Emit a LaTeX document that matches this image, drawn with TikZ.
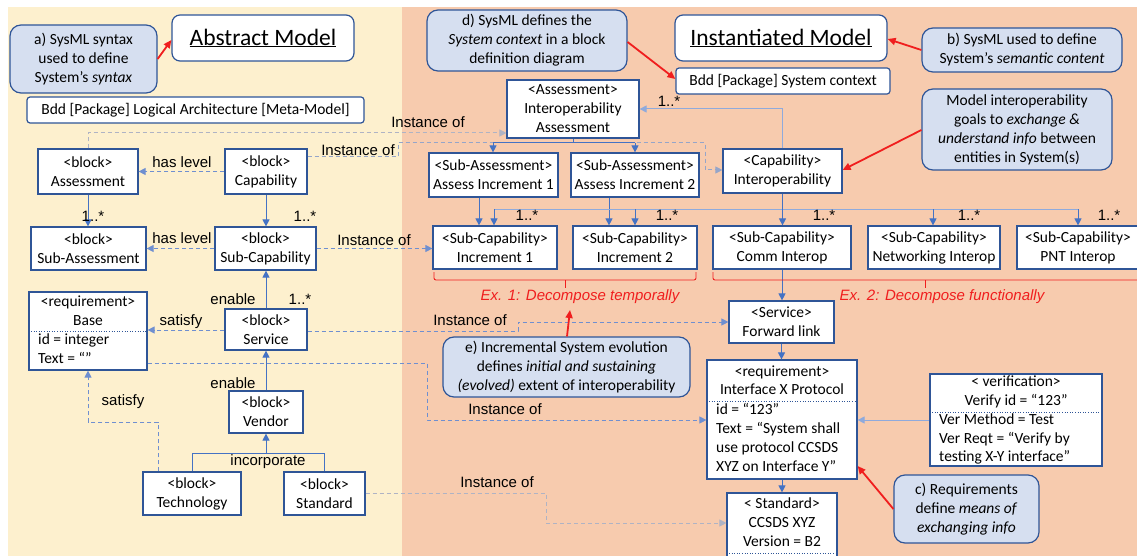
\documentclass[tikz,border=0pt]{standalone}
\usepackage{fontspec}
\newfontfamily\calfont{Carlito}
\newfontfamily\arfont{Liberation Sans}
\usetikzlibrary{arrows.meta}

\definecolor{ylw}{HTML}{FDF0CE}
\definecolor{sal}{HTML}{F7CBAE}
\definecolor{bord}{HTML}{2F5597}
\definecolor{callfill}{HTML}{D6DFF0}
\definecolor{conncol}{HTML}{4472C4}
\definecolor{lightconn}{HTML}{8FAADC}
\definecolor{dashcol}{HTML}{6F8FD0}
\definecolor{graydash}{HTML}{AFB3C4}
\definecolor{redc}{HTML}{F01E1E}

\newcommand\bfnt{\calfont\fontsize{15.5}{19}\selectfont}
\newcommand\lfnt{\arfont\fontsize{15}{18}\selectfont}
\newcommand\tfnt{\calfont\fontsize{23.5}{28}\selectfont}

% box given by its corners: [options]{name}{x1}{y1}{x2}{y2}{text}
\newcommand\bx[7][]{\node[blk,#1,minimum width={#5-#3},minimum height={#6-#4}] (#2) at ({(#3+#5)/2},{(#4+#6)/2}) {#7};}

\tikzset{
  blk/.style={draw=bord, fill=white, line width=1.2pt, inner sep=0pt, align=center, font=\bfnt},
  callout/.style={blk, fill=callfill, rounded corners=11pt},
  title/.style={blk, rounded corners=8pt, font=\tfnt},
  bdd/.style={blk, rounded corners=3pt},
  txt/.style={inner sep=0pt, font=\bfnt, text height=11pt, text depth=3.5pt},
  lbl/.style={inner sep=0pt, font=\lfnt},
  redlbl/.style={inner sep=0pt, font=\lfnt\itshape, text=redc},
  cline/.style={draw=conncol, line width=1pt},
  lline/.style={draw=lightconn, line width=1pt},
  conn/.style={cline, -{Triangle[length=7pt,width=7pt]}},
  lconn/.style={lline, -{Triangle[length=7pt,width=7pt]}},
  dconn/.style={draw=dashcol, line width=1pt, dash pattern=on 4pt off 3pt, -{Triangle[length=7pt,width=7pt]}},
  gconn/.style={dconn, draw=graydash},
  redarr/.style={draw=redc, line width=1.8pt, -{Triangle[length=8pt,width=7pt]}},
  brace/.style={draw=redc, line width=0.9pt, rounded corners=2pt},
  sep/.style={draw=bord, line width=0.6pt, dotted},
}

\begin{document}
\begin{tikzpicture}[x=1pt,y=-1pt]
\useasboundingbox (0,0) rectangle (1137,556);
\clip (0,0) rectangle (1137,556);
\fill[white] (0,0) rectangle (1137,556);
% panels
\fill[ylw] (8,7) rectangle (402,556);
\fill[sal] (402,7) rectangle (1137,556);

% ---------- abstract model ----------
\bx[callout]{callA}{10}{25}{157}{93}{a) SysML syntax\\used to define\\System’s \textit{syntax}}
\bx[title]{absModel}{172}{15}{354}{61}{\underline{Abstract Model}}
\bx[bdd]{bddL}{27}{97}{364}{123}{Bdd [Package] Logical Architecture [Meta-Model]}
\bx{assess}{38}{149}{138}{194}{<block>\\Assessment}
\bx{capab}{225}{149}{307}{194}{<block>\\Capability}
\bx{subAssess}{31}{227}{146}{270}{<block>\\Sub-Assessment}
\bx{subCap}{215}{227}{316}{270}{<block>\\Sub-Capability}
\bx{base}{29}{292}{147}{370}{}
\node[txt] (baseA) at (88,303) {<requirement>};
\node[txt] (baseB) at (88,322) {Base};
\draw[sep] (base.west |- 0,331) -- (base.east |- 0,331);
\node[txt, anchor=west] (baseC) at (38,341) {id = integer};
\node[txt, anchor=west] (baseD) at (38,360) {Text = “”};
\bx{service}{225}{309}{307}{350}{<block>\\Service}
\bx{vendor}{229}{391}{303}{433}{<block>\\Vendor}
\bx{tech}{143}{472}{241}{515}{<block>\\Technology}
\bx{stdL}{284}{472}{365}{515}{<block>\\Standard}

% ---------- instantiated model ----------
\bx[callout]{callD}{427}{10}{627}{71}{d) SysML defines the\\\textit{System context} in a block\\definition diagram}
\bx[title]{instModel}{675}{15}{887}{61}{\underline{Instantiated Model}}
\bx[callout]{callB}{922}{28}{1122}{72}{b) SysML used to define\\System’s \textit{semantic content}}
\bx[bdd]{bddR}{676}{68}{890}{94}{Bdd [Package] System context}
\bx{interAssess}{507}{80}{639}{138}{<Assessment>\\Interoperability\\Assessment}
\bx[callout]{callM}{922}{89}{1112}{170}{Model interoperability\\goals to \textit{exchange \&}\\\textit{understand info} between\\entities in System(s)}
\bx{capInter}{723}{149}{842}{193}{<Capability>\\Interoperability}
\bx{aInc1}{429}{153}{558}{197}{<Sub-Assessment>\\Assess Increment 1}
\bx{aInc2}{571}{153}{699}{197}{<Sub-Assessment>\\Assess Increment 2}
\bx{sInc1}{433}{226}{557}{269}{<Sub-Capability>\\Increment 1}
\bx{sInc2}{573}{226}{697}{269}{<Sub-Capability>\\Increment 2}
\bx{comm}{713}{226}{851}{269}{<Sub-Capability>\\Comm Interop}
\bx{netw}{868}{226}{1000}{269}{<Sub-Capability>\\Networking Interop}
\bx{pnt}{1017}{226}{1139}{269}{<Sub-Capability>\\PNT Interop}
\bx{fl}{729}{301}{834}{343}{<Service>\\Forward link}
\bx[callout]{callE}{443}{337}{690}{397}{e) Incremental System evolution\\defines \textit{initial and sustaining}\\\textit{(evolved)} extent of interoperability}
\bx{req}{707}{360}{857}{479}{}
\node[txt] (reqA) at (782,373) {<requirement>};
\node[txt] (reqB) at (782,391) {Interface X Protocol};
\draw[sep] (req.west |- 0,401) -- (req.east |- 0,401);
\node[txt, anchor=west] (reqC) at (716,411) {id = “123”};
\node[txt, anchor=west] (reqD) at (716,430) {Text = “System shall};
\node[txt, anchor=west] (reqE) at (716,449) {use protocol CCSDS};
\node[txt, anchor=west] (reqF) at (716,468) {XYZ on Interface Y”};
\bx{verif}{930}{374}{1102}{466}{}
\node[txt] (verA) at (1016,383) {< verification>};
\node[txt] (verB) at (1016,402) {Verify id = “123”};
\draw[sep] (verif.west |- 0,412) -- (verif.east |- 0,412);
\node[txt, anchor=west] (verC) at (939,421) {Ver Method = Test};
\node[txt, anchor=west] (verD) at (939,440) {Ver Reqt = “Verify by};
\node[txt, anchor=west] (verE) at (939,458) {testing X-Y interface”};
\bx[callout]{callC}{894}{475}{1039}{543}{c) Requirements\\define \textit{means of}\\\textit{exchanging info}}
\bx{stdR}{727}{493}{837}{562}{}
\node[txt] (stdA) at (782,505) {< Standard>};
\node[txt] (stdB) at (782,524) {CCSDS XYZ};
\node[txt] (stdC) at (782,543) {Version = B2};
\draw[sep] (stdR.west |- 0,553) -- (stdR.east |- 0,553);

% ---------- solid connectors, abstract side ----------
\draw[conn] (assess.south) -- (assess.south |- subAssess.north);
\node[lbl] (m1) at (93,216) {1..*};
\draw[conn] (capab.south) -- (capab.south |- subCap.north);
\node[lbl] (m2) at (305,216) {1..*};
\draw[conn] (service.north) -- (service.north |- subCap.south);
\node[lbl] (en1) at (233,299) {enable};
\node[lbl] (m3) at (300,299) {1..*};
\draw[conn] (vendor.north) -- (vendor.north |- service.south);
\node[lbl] (en2) at (233,383) {enable};
\coordinate (inc) at (266,453);
\draw[cline] (tech.north) -- (tech.north |- inc) -- (stdL.north |- inc) -- (stdL.north);
\draw[conn] (inc) -- (vendor.south);
\node[lbl] (incl) at (268,462) {incorporate};

% ---------- dashed connectors, abstract side ----------
\draw[dconn] (capab.west) -- (assess.east);
\node[lbl] (hl1) at (182,162) {has level};
\draw[dconn] (subCap.west) -- (subAssess.east);
\node[lbl] (hl2) at (182,238) {has level};
\draw[dconn] (service.west |- 0,330) -- (base.east |- 0,330);
\node[lbl] (sat1) at (181,322) {satisfy};
\draw[dconn] (tech.north -| 158,0) -- (158,422) -| (base.south);
\node[lbl] (sat2) at (123,402) {satisfy};

% ---------- instance-of links ----------
\draw[gconn] (assess.north) -- (88,133) -- (interAssess.west |- 0,133);
\node[lbl] (io1) at (428,122) {Instance of};
\draw[dconn, draw=graydash!60!dashcol] (capab.east |- 0,157) -- (398,157) -- (398,143) -- (705,143) -- (705,170) -- (capInter.west |- 0,170);
\node[lbl] (io2) at (358,150) {Instance of};
\draw[dconn] (subCap.east) -- (sInc1.west |- subCap.east);
\node[lbl] (io3) at (374,240) {Instance of};
\draw[dconn] (service.east |- 0,331) -| (518,322) -- (fl.west);
\node[lbl] (io4) at (470,320) {Instance of};
\draw[dconn] (base.east |- 0,363) -| (427,420) -- (req.west |- 0,420);
\node[lbl] (io5) at (505,409) {Instance of};
\draw[gconn] (stdL.east) -| (546,523) -- (stdR.west |- 0,523);
\node[lbl] (io6) at (497,482) {Instance of};

% ---------- solid connectors, instantiated side ----------
\coordinate (ja) at (573,143);
\coordinate (j1) at (493,143);
\coordinate (j2) at (635,143);
\draw[cline] (interAssess.south) -- (ja);
\draw[cline] (j1) -- (j2);
\draw[conn] (j1) -- (j1 |- aInc1.north);
\draw[conn] (j2) -- (j2 |- aInc2.north);
\draw[conn] (aInc1.south -| 479,0) -- (sInc1.north -| 479,0);
\draw[conn] (aInc2.south -| 609,0) -- (sInc2.north -| 609,0);
\draw[lconn] (capInter.north) |- (interAssess.east);
\node[lbl] (m4) at (669,101) {1..*};
\coordinate (bL) at (494,209);
\coordinate (bR) at (1078,209);
\draw[lline] (bL) -- (bR);
\draw[conn] (bL) -- (bL |- sInc1.north);
\draw[conn] (635,209) -- (sInc2.north -| 635,0);
\draw[conn] (capInter.south) -- (capInter.south |- comm.north);
\draw[conn] (933,209) -- (netw.north -| 933,0);
\draw[conn] (bR) -- (bR |- pnt.north);
\node[lbl] (m5) at (527,215) {1..*};
\node[lbl] (m6) at (667,215) {1..*};
\node[lbl] (m7) at (824,215) {1..*};
\node[lbl] (m8) at (969,215) {1..*};
\node[lbl] (m9) at (1109,215) {1..*};
\draw[conn] (comm.south) -- (comm.south |- fl.north);
\draw[conn] (fl.south) -- (fl.south |- req.north);
\draw[conn] (req.south) -- (req.south |- stdR.north);
\draw[lconn] (verif.west |- 0,420) -- (req.east |- 0,420);

% ---------- decomposition braces ----------
\draw[brace] (434,272) |- (565,280) -| (696,272);
\draw[brace] (565,280) -- (565,288);
\node[redlbl] (ex1) at (580,297) {Ex. 1: Decompose temporally};
\draw[brace] (713,272) |- (925,280) -| (1140,272);
\draw[brace] (925,280) -- (925,288);
\node[redlbl] (ex2) at (942,297) {Ex. 2: Decompose functionally};

% ---------- annotation arrows ----------
\draw[redarr] (callA.east |- 0,59) -- (absModel.west |- 0,40);
\draw[redarr] (callD.east |- 0,42) -- (bddR.west |- 0,79);
\draw[redarr] (callB.west) -- (instModel.east |- 0,39);
\draw[redarr] (callM.west |- 0,130) -- (capInter.east |- 0,170);
\draw[redarr] (callC.west) -- (req.east |- 0,466);
\coordinate (ex1tip) at (570,310);
\draw[redarr] (callE.north -| 567,0) -- (ex1tip);
\end{tikzpicture}
\end{document}
